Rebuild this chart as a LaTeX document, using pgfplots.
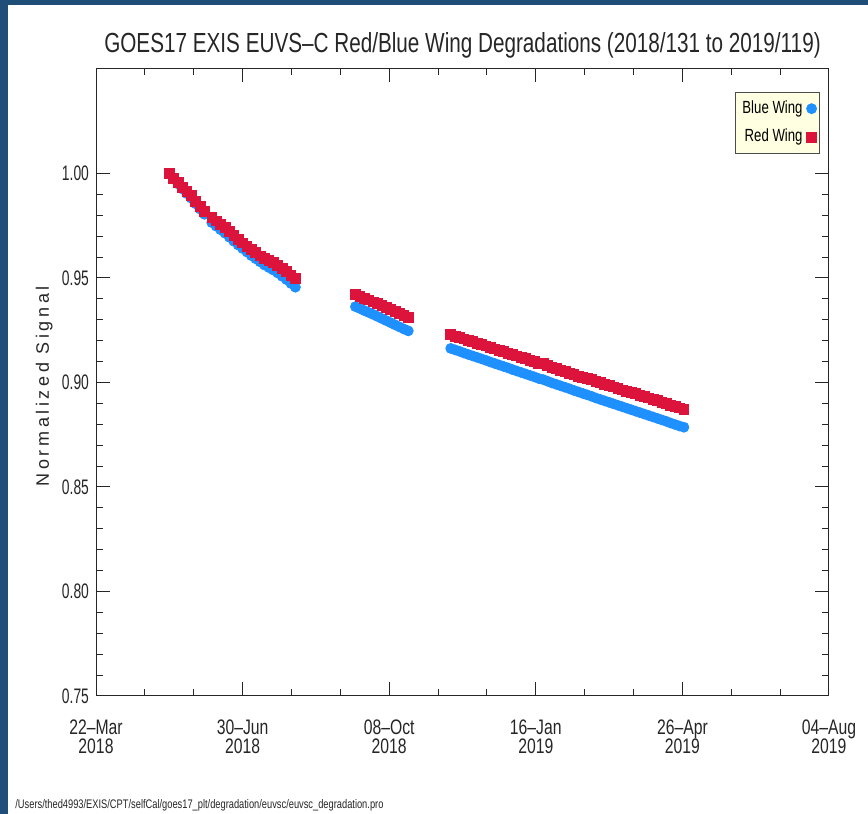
\documentclass[border=0pt]{standalone}
\usepackage{fontspec}
\setmainfont{Liberation Sans}[FakeStretch=0.75]
\newfontfamily\numfont{Liberation Sans}[FakeStretch=0.66]
\newfontfamily\ylabfont{Liberation Sans}[LetterSpace=20]
\usepackage{pgfplots}
\pgfplotsset{compat=1.18}
\definecolor{slidebg}{RGB}{31,78,121}
\definecolor{bluewing}{RGB}{30,144,255}
\definecolor{redwing}{RGB}{220,20,60}
\definecolor{legbg}{RGB}{255,255,225}
% legend: one mark only, close to the text
\pgfplotsset{onemark/.style={legend image code/.code={%
    \draw[mark repeat=2, mark phase=2, ##1] plot coordinates {(0cm,0cm) (0.1cm,0cm) (0.2cm,0cm)};}}}

\begin{document}
\begin{tikzpicture}
% slide background, 1px = 0.5pt
\fill[slidebg] (0,0) rectangle (434pt,407pt);
\fill[white] (4pt,0) rectangle (434pt,404.5pt);
\useasboundingbox (0,0) rectangle (434pt,407pt);

\begin{axis}[
    at={(48pt,59pt)}, anchor=south west,
    scale only axis,
    width=366.5pt, height=313.5pt,
    xmin=0, xmax=500,
    ymin=0.75, ymax=1.05,
    axis line style={black!85, line width=0.5pt},
    every tick/.style={black!85, line width=0.5pt},
    tick align=inside,
    major tick length=6.75pt,
    minor tick length=3.25pt,
    xtick={0,100,200,300,400,500},
    xticklabels={{22--Mar\\2018},{30--Jun\\2018},{08--Oct\\2018},{16--Jan\\2019},{26--Apr\\2019},{04--Aug\\2019}},
    minor x tick num=2,
    ytick={0.75,0.80,0.85,0.90,0.95,1.00},
    minor y tick num=4,
    xticklabel style={align=center, font=\fontsize{10.5}{9.6}\selectfont, yshift=-8.5pt, text=black!85},
    yticklabel style={font=\numfont\fontsize{10.5}{10}\selectfont, text=black!85,
        /pgf/number format/.cd, fixed, fixed zerofill, precision=2, assume math mode=true},
    title={GOES17 EXIS EUVS--C Red/Blue Wing Degradations (2018/131 to 2019/119)},
    title style={at={(0.5,1)}, anchor=base, yshift=2pt, font=\fontsize{13.8}{16}\selectfont, text=black!85},
    ylabel={Normalized Signal},
    every axis y label/.style={at={(axis description cs:-0.0705,0.494)}, rotate=90, anchor=center,
        font=\ylabfont\fontsize{9}{10}\selectfont, text=black!85},
    legend cell align=right,
    legend plot pos=right,
    legend style={at={(1,1)}, anchor=north east, xshift=-4.5pt, yshift=-11.5pt,
        draw=black!70, fill=legbg, font=\fontsize{8.8}{10}\selectfont,
        inner xsep=1.5pt, inner ysep=2.2pt, row sep=2.3pt},
]

% Blue wing
\addplot[only marks, mark=*, mark size=2.5pt, color=bluewing, mark options={draw=bluewing, fill=bluewing}, onemark]
coordinates {
(50,1.0000) (53,0.9975) (56,0.9950) (59,0.9926) (62,0.9904) (65,0.9882) (68,0.9855) (71,0.9830) (74,0.9805)
(79,0.9765) (82,0.9748) (85,0.9731) (88,0.9714) (91,0.9695) (94,0.9676) (97,0.9658) (100,0.9641)
(103,0.9624) (106,0.9607) (109,0.9592) (112,0.9577) (115,0.9562) (118,0.9550) (121,0.9538) (124,0.9524)
(127,0.9508) (130,0.9492) (133,0.9474) (136,0.9456)
(177,0.9363) (180,0.9354) (183,0.9344) (186,0.9335) (189,0.9326) (192,0.9316) (195,0.9306) (198,0.9296)
(201,0.9286) (204,0.9276) (207,0.9266) (210,0.9256) (213,0.9247)
(242,0.9163) (245,0.9156) (248,0.9149) (251,0.9141) (254,0.9134) (257,0.9127) (260,0.9120) (263,0.9113)
(266,0.9106) (269,0.9098) (272,0.9091) (275,0.9084) (278,0.9077) (281,0.9070) (284,0.9062) (287,0.9055)
(290,0.9048) (293,0.9041) (296,0.9034) (299,0.9027) (302,0.9019) (305,0.9014) (308,0.9006) (311,0.8998)
(314,0.8991) (317,0.8984) (320,0.8977) (323,0.8970) (326,0.8962) (329,0.8955) (332,0.8948) (335,0.8941)
(338,0.8934) (341,0.8926) (344,0.8919) (347,0.8912) (350,0.8905) (353,0.8898) (356,0.8891) (359,0.8884)
(362,0.8877) (365,0.8870) (368,0.8863) (371,0.8856) (374,0.8849) (377,0.8842) (380,0.8835) (383,0.8828)
(386,0.8821) (389,0.8814) (392,0.8806) (395,0.8799) (398,0.8792) (401,0.8786)
};
\addlegendentry{Blue Wing}

% Red wing
\addplot[only marks, mark=square*, mark size=2.45pt, color=redwing, mark options={draw=redwing, fill=redwing}, onemark]
coordinates {
(50,1.0000) (53,0.9978) (56,0.9956) (59,0.9934) (62,0.9914) (65,0.9895) (68,0.9866) (71,0.9842) (74,0.9818)
(79,0.9789) (82,0.9773) (85,0.9757) (88,0.9741) (91,0.9722) (94,0.9702) (97,0.9684) (100,0.9668)
(103,0.9652) (106,0.9636) (109,0.9621) (112,0.9606) (115,0.9592) (118,0.9585) (121,0.9574) (124,0.9560)
(127,0.9545) (130,0.9530) (133,0.9514) (136,0.9498)
(177,0.9420) (180,0.9412) (183,0.9403) (186,0.9395) (189,0.9386) (192,0.9377) (195,0.9367) (198,0.9358)
(201,0.9349) (204,0.9339) (207,0.9330) (210,0.9320) (213,0.9310)
(242,0.9229) (245,0.9222) (248,0.9216) (251,0.9209) (254,0.9202) (257,0.9195) (260,0.9188) (263,0.9182)
(266,0.9175) (269,0.9168) (272,0.9161) (275,0.9155) (278,0.9148) (281,0.9141) (284,0.9134) (287,0.9127)
(290,0.9121) (293,0.9114) (296,0.9107) (299,0.9100) (302,0.9093) (305,0.9090) (308,0.9082) (311,0.9074)
(314,0.9067) (317,0.9059) (320,0.9052) (323,0.9045) (326,0.9038) (329,0.9031) (332,0.9024) (335,0.9018)
(338,0.9013) (341,0.9006) (344,0.8999) (347,0.8992) (350,0.8985) (353,0.8979) (356,0.8972) (359,0.8965)
(362,0.8958) (365,0.8952) (368,0.8946) (371,0.8940) (374,0.8933) (377,0.8926) (380,0.8919) (383,0.8913)
(386,0.8906) (389,0.8899) (392,0.8892) (395,0.8885) (398,0.8878) (401,0.8870)
};
\addlegendentry{Red Wing}

\end{axis}

\node[anchor=base west, inner sep=0pt, font=\fontsize{6.2}{7}\selectfont, text=black!85]
    at (7.5pt,2.5pt) {/Users/thed4993/EXIS/CPT/selfCal/goes17\_plt/degradation/euvsc/euvsc\_degradation.pro};
\end{tikzpicture}
\end{document}
